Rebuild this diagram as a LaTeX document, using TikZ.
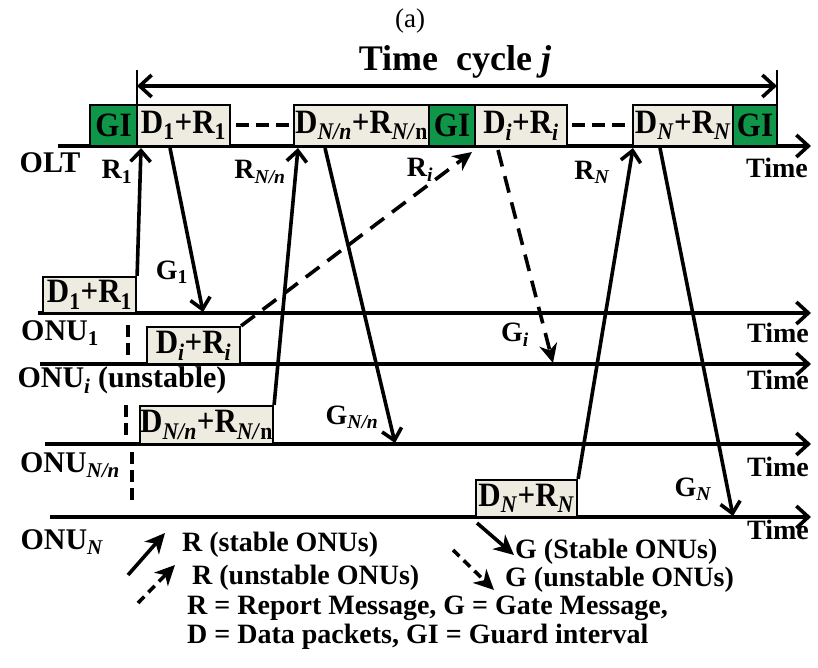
\documentclass[tikz,border=0pt]{standalone}
\usepackage{fontspec}
\setmainfont{Liberation Serif}
\usetikzlibrary{arrows.meta}
\definecolor{gigreen}{RGB}{16,150,72}
\definecolor{boxfill}{RGB}{238,236,224}
\newcommand{\tallbox}[1]{\scalebox{1}[1.1]{#1}}
\begin{document}
\begin{tikzpicture}[x=1pt,y=-1pt,
  lbl/.style={font=\fontsize{28}{30}\selectfont\bfseries, inner sep=0pt},
  biglbl/.style={font=\fontsize{30}{32}\selectfont\bfseries, inner sep=0pt},
  ttl/.style={font=\fontsize{36}{38}\selectfont\bfseries, inner sep=0pt},
  pbox/.style={draw, line width=2.2pt, fill=boxfill, inner sep=0pt, minimum height=41pt,
     font=\fontsize{31}{33}\selectfont\bfseries},
  gbox/.style={pbox, fill=gigreen},
  ubox/.style={pbox, minimum height=37pt},
  tline/.style={line width=3.6pt, -{Straight Barb[length=12pt,width=22pt,line width=3.6pt]}},
  msg/.style={line width=3.6pt, -{Straight Barb[length=11pt,width=20pt,line width=3.6pt]}},
  umsg/.style={line width=3.6pt, dash pattern=on 17pt off 10pt, -{Stealth[length=19pt,width=18pt,inset=6pt]}},
  lsolid/.style={line width=3.6pt, -{Stealth[length=20pt,width=19pt,inset=6pt]}},
  ldash/.style={line width=3.6pt, dash pattern=on 9pt off 6pt, -{Stealth[length=20pt,width=19pt,inset=6pt]}},
  vdash/.style={line width=3.6pt, dash pattern=on 12pt off 6pt},
  dots/.style={line width=4pt, dash pattern=on 13pt off 7pt},
  cyc/.style={line width=2pt},
  cycarrow/.style={line width=3.6pt, {Straight Barb[length=12pt,width=22pt,line width=3.6pt]}-{Straight Barb[length=12pt,width=22pt,line width=3.6pt]}}
]
\useasboundingbox (0,0) rectangle (818,668);

% title
\node[inner sep=0pt, font=\fontsize{27}{29}\selectfont] (cap) at (410,21) {(a)};
\node[ttl] (cycle) at (455,62) {Time\ \ cycle \textit{j}};

% time cycle marks
\coordinate (cLt) at (137,70);
\coordinate (cLb) at (137,146);
\coordinate (cRt) at (777,70);
\coordinate (cRb) at (777,146);
\coordinate (cA) at (137,86);
\coordinate (cB) at (777,86);
\draw[cyc] (cLt) -- (cLb);
\draw[cyc] (cRt) -- (cRb);
\draw[cycarrow] (cA) -- (cB);

% OLT line
\coordinate (oltS) at (58,146);
\coordinate (oltE) at (811,146);
\draw[tline] (oltS) -- (oltE);

% OLT boxes
\node[gbox, minimum width=47pt] (gi1) at (113.5,125.5) {\tallbox{GI}};
\node[pbox, minimum width=93pt] (ob1) at (183.5,125.5) {\tallbox{D\textsubscript{1}+R\textsubscript{1}}};
\node[pbox, minimum width=135pt] (obn) at (361.5,125.5) {\tallbox{D\textsubscript{\textit{N/n}}+R\textsubscript{\textit{N/}n}}};
\node[gbox, minimum width=46pt] (gi2) at (452,125.5) {\tallbox{GI}};
\node[pbox, minimum width=92pt] (obi) at (521,125.5) {\tallbox{D\textsubscript{\textit{i}}+R\textsubscript{\textit{i}}}};
\node[pbox, minimum width=100pt] (obN) at (683,125.5) {\tallbox{D\textsubscript{\textit{N}}+R\textsubscript{\textit{N}}}};
\node[gbox, minimum width=44pt] (gi3) at (755,125.5) {\tallbox{GI}};
\coordinate (d1a) at (236,125); \coordinate (d1b) at (291,125);
\coordinate (d2a) at (572,125); \coordinate (d2b) at (627,125);
\draw[dots] (d1a) -- (d1b);
\draw[dots] (d2a) -- (d2b);

% ONU lines
\coordinate (u1S) at (38,313);  \coordinate (u1E) at (811,313);
\coordinate (uiS) at (40,364);  \coordinate (uiE) at (811,364);
\coordinate (unS) at (45,444);  \coordinate (unE) at (811,444);
\coordinate (uNS) at (50,517);  \coordinate (uNE) at (811,517);
\draw[tline] (u1S) -- (u1E);
\draw[tline] (uiS) -- (uiE);
\draw[tline] (unS) -- (unE);
\draw[tline] (uNS) -- (uNE);

% ONU boxes
\node[ubox, minimum width=93pt, minimum height=36pt] (u1) at (89.5,295) {\tallbox{D\textsubscript{1}+R\textsubscript{1}}};
\node[ubox, minimum width=93pt] (ui) at (193.5,345.5) {\tallbox{D\textsubscript{\textit{i}}+R\textsubscript{\textit{i}}}};
\node[ubox, minimum width=133pt, minimum height=38pt] (un) at (206.5,425) {\tallbox{D\textsubscript{\textit{N/n}}+R\textsubscript{\textit{N/}n}}};
\node[ubox, minimum width=101pt] (uN) at (526.5,498.5) {\tallbox{D\textsubscript{\textit{N}}+R\textsubscript{\textit{N}}}};

% dashed separators
\coordinate (s1a) at (128,325); \coordinate (s1b) at (128,359);
\coordinate (s2a) at (126,405); \coordinate (s2b) at (126,438);
\coordinate (s3a) at (132,452); \coordinate (s3b) at (132,504);
\draw[vdash] (s1a) -- (s1b);
\draw[vdash] (s2a) -- (s2b);
\draw[vdash] (s3a) -- (s3b);

% messages
\coordinate (r1e) at (141,148);
\coordinate (g1s) at (170,148); \coordinate (g1e) at (203,312);
\coordinate (rne) at (298,148);
\coordinate (gns) at (325,148); \coordinate (gne) at (395,443);
\coordinate (rie) at (472,152);
\coordinate (gis) at (498,150); \coordinate (gie) at (553,363);
\coordinate (rNe) at (633,148);
\coordinate (gNs) at (660,148); \coordinate (gNe) at (733,516);
\draw[msg] (u1.north east) -- (r1e);
\draw[msg] (g1s) -- (g1e);
\draw[msg] (un.north east) -- (rne);
\draw[msg] (gns) -- (gne);
\draw[umsg] (ui.north east) -- (rie);
\draw[umsg] (gis) -- (gie);
\draw[msg] (uN.north east) -- (rNe);
\draw[msg] (gNs) -- (gNe);

% labels
\node[biglbl] (lolt) at (50,163) {OLT};
\node[lbl] (lr1) at (117,172) {R\textsubscript{1}};
\node[lbl] (lrn) at (260,172) {R\textsubscript{\textit{N/n}}};
\node[lbl] (lri) at (420,170) {R\textsubscript{\textit{i}}};
\node[lbl] (lrN) at (592,172) {R\textsubscript{\textit{N}}};
\node[lbl] (t0) at (777,168) {Time};
\node[lbl] (lg1) at (172,272) {G\textsubscript{1}};
\node[lbl] (lgn) at (352,417) {G\textsubscript{\textit{N/n}}};
\node[lbl] (lgi) at (515,335) {G\textsubscript{\textit{i}}};
\node[lbl] (lgN) at (693,489) {G\textsubscript{\textit{N}}};
\node[biglbl] (lu1) at (60,333) {ONU\textsubscript{1}};
\node[biglbl] (lui) at (122,380) {ONU\textsubscript{\textit{i}} (unstable)};
\node[biglbl] (lun) at (70,465) {ONU\textsubscript{\textit{N/n}}};
\node[biglbl] (luN) at (62,542) {ONU\textsubscript{\textit{N}}};
\node[lbl] (t1) at (778,333) {Time};
\node[lbl] (t2) at (778,380) {Time};
\node[lbl] (t3) at (778,467) {Time};
\node[lbl] (t4) at (778,530) {Time};

% legend
\coordinate (la1) at (128,575); \coordinate (la2) at (165,533);
\coordinate (lb1) at (138,603); \coordinate (lb2) at (175,565);
\coordinate (lc1) at (477,523); \coordinate (lc2) at (514,555);
\coordinate (ld1) at (453,550); \coordinate (ld2) at (494,590);
\draw[lsolid] (la1) -- (la2);
\draw[ldash] (lb1) -- (lb2);
\draw[lsolid] (lc1) -- (lc2);
\draw[ldash] (ld1) -- (ld2);
\node[lbl, anchor=west] (lega) at (182,545) {R (stable ONUs)};
\node[lbl, anchor=west] (legb) at (192,578) {R (unstable ONUs)};
\node[lbl, anchor=west] (legc) at (515,552) {G (Stable ONUs)};
\node[lbl, anchor=west] (legd) at (505,580) {G (unstable ONUs)};
\node[lbl, anchor=west] (lege) at (187,608) {R = Report Message, G = Gate Message,};
\node[lbl, anchor=west] (legf) at (187,637) {D = Data packets, GI = Guard interval};
\end{tikzpicture}
\end{document}
